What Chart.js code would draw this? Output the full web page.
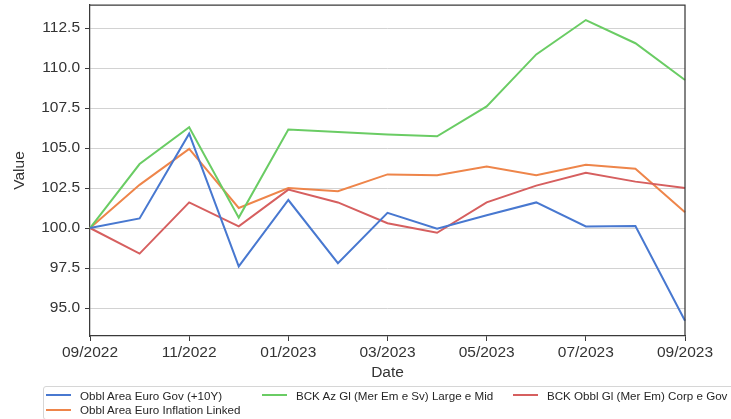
<!DOCTYPE html>
<html>
<head>
<meta charset="utf-8">
<script src="https://cdn.jsdelivr.net/npm/chart.js@4"></script>
<style>
    html, body { margin: 0; padding: 0; background: #fff; overflow: hidden; }
    #wrap { position: relative; width: 731px; height: 419px; }
    #legend {
        position: absolute; left: 43px; top: 386px; width: 700px; height: 34px;
        border: 1px solid #d6d6d6; border-radius: 3px; box-sizing: border-box;
        font-family: "Liberation Sans", Arial, sans-serif; font-size: 11.6px; color: #262626;
        display: grid; grid-template-columns: 216px 251px 240px; grid-auto-rows: 14.5px;
        padding: 1px 0 0 2px;
    }
    .item { display: flex; align-items: center; white-space: nowrap; }
    .swatch { width: 25px; height: 2px; margin-right: 9px; }
</style>
</head>
<body>
<div id="wrap">
    <canvas id="myChart" width="731" height="419"></canvas>
    <div id="legend"></div>
</div>
<script>
const months = ['09/2022', '10/2022', '11/2022', '12/2022', '01/2023', '02/2023', '03/2023',
    '04/2023', '05/2023', '06/2023', '07/2023', '08/2023', '09/2023'];
const yTicks = [95.0, 97.5, 100.0, 102.5, 105.0, 107.5, 110.0, 112.5];

const seriesNames = [
    'Obbl Area Euro Gov (+10Y)',
    'BCK Az Gl (Mer Em e Sv) Large e Mid',
    'BCK Obbl Gl (Mer Em) Corp e Gov',
    'Obbl Area Euro Inflation Linked'
];
const euroGov = [100.0, 100.6, 105.9, 97.6, 101.75, 97.8, 100.95, 99.95, 100.8, 101.6, 100.1, 100.12, 94.2];
const azGlobal = [100.0, 104.0, 106.3, 100.65, 106.15, 106.0, 105.85, 105.73, 107.6, 110.85, 113.0, 111.55, 109.25];
const corpGov = [100.0, 98.4, 101.6, 100.1, 102.4, 101.6, 100.3, 99.7, 101.6, 102.65, 103.45, 102.9, 102.5];
const inflLinked = [100.0, 102.7, 104.95, 101.25, 102.5, 102.3, 103.35, 103.3, 103.85, 103.3, 103.95, 103.7, 100.98];

const colors = ['#4878d0', '#6acc64', '#d65f5f', '#ee854a'];
const allValues = [euroGov, azGlobal, corpGov, inflLinked];

const FONT = '"Liberation Sans", Arial, sans-serif';
const TEXT = '#333333';

// top and right spines
const frame = {
    id: 'frame',
    afterDraw(chart) {
        const a = chart.chartArea;
        const ctx = chart.ctx;
        ctx.save();
        ctx.strokeStyle = '#3a3a3a';
        ctx.lineWidth = 1.25;
        ctx.beginPath();
        ctx.moveTo(a.left, a.top);
        ctx.lineTo(a.right, a.top);
        ctx.lineTo(a.right, a.bottom);
        ctx.stroke();
        ctx.restore();
    }
};

const ctx = document.getElementById('myChart').getContext('2d');
const myChart = new Chart(ctx, {
    type: 'line',
    data: {
        labels: months,
        datasets: allValues.map(function (vals, i) {
            return {
                label: seriesNames[i],
                data: vals,
                borderColor: colors[i],
                backgroundColor: colors[i],
                borderWidth: 2,
                pointRadius: 0,
                tension: 0,
            };
        }),
    },
    options: {
        responsive: false,
        animation: false,
        layout: { padding: { left: 0, top: 5, right: 46, bottom: 36 } },
        plugins: {
            legend: { display: false },
            tooltip: { enabled: false },
        },
        scales: {
            x: {
                type: 'category',
                afterBuildTicks: function (scale) {
                    scale.ticks = scale.ticks.filter(function (t, i) { return i % 2 === 0; });
                },
                afterFit: function (scale) { scale.height = 47; },
                ticks: { autoSkip: false, maxRotation: 0, color: TEXT, padding: 2,
                    font: { family: FONT, size: 15.5 } },
                grid: { drawOnChartArea: false, drawTicks: true, tickLength: 5, tickColor: '#3a3a3a' },
                border: { display: true, color: '#3a3a3a', width: 1.25 },
                title: { display: true, text: 'Date', color: TEXT, padding: { top: 0, bottom: 1 },
                    font: { family: FONT, size: 15.5 } },
            },
            y: {
                min: 93.25,
                max: 113.94,
                afterBuildTicks: function (scale) {
                    scale.ticks = yTicks.map(function (v) { return { value: v }; });
                },
                afterFit: function (scale) {
                    scale.width = 90;
                    scale.paddingTop = 0;
                    scale.paddingBottom = 0;
                },
                ticks: {
                    color: TEXT, padding: 5,
                    font: { family: FONT, size: 15.5 },
                    callback: function (v) { return Number(v).toFixed(1); },
                },
                grid: { color: '#d2d2d2', lineWidth: 1, drawTicks: true, tickLength: 5, tickColor: '#3a3a3a' },
                border: { display: true, color: '#3a3a3a', width: 1.25 },
                title: { display: true, text: 'Value', color: TEXT, padding: { top: 10, bottom: 0 },
                    font: { family: FONT, size: 15.5 } },
            },
        },
    },
    plugins: [frame],
});

// legend in matplotlib style, three columns filled row by row
const legendEl = document.getElementById('legend');
myChart.data.datasets.forEach(function (ds) {
    const item = document.createElement('div');
    item.className = 'item';
    const sw = document.createElement('span');
    sw.className = 'swatch';
    sw.style.background = ds.borderColor;
    item.appendChild(sw);
    item.appendChild(document.createTextNode(ds.label));
    legendEl.appendChild(item);
});
</script>
</body>
</html>
